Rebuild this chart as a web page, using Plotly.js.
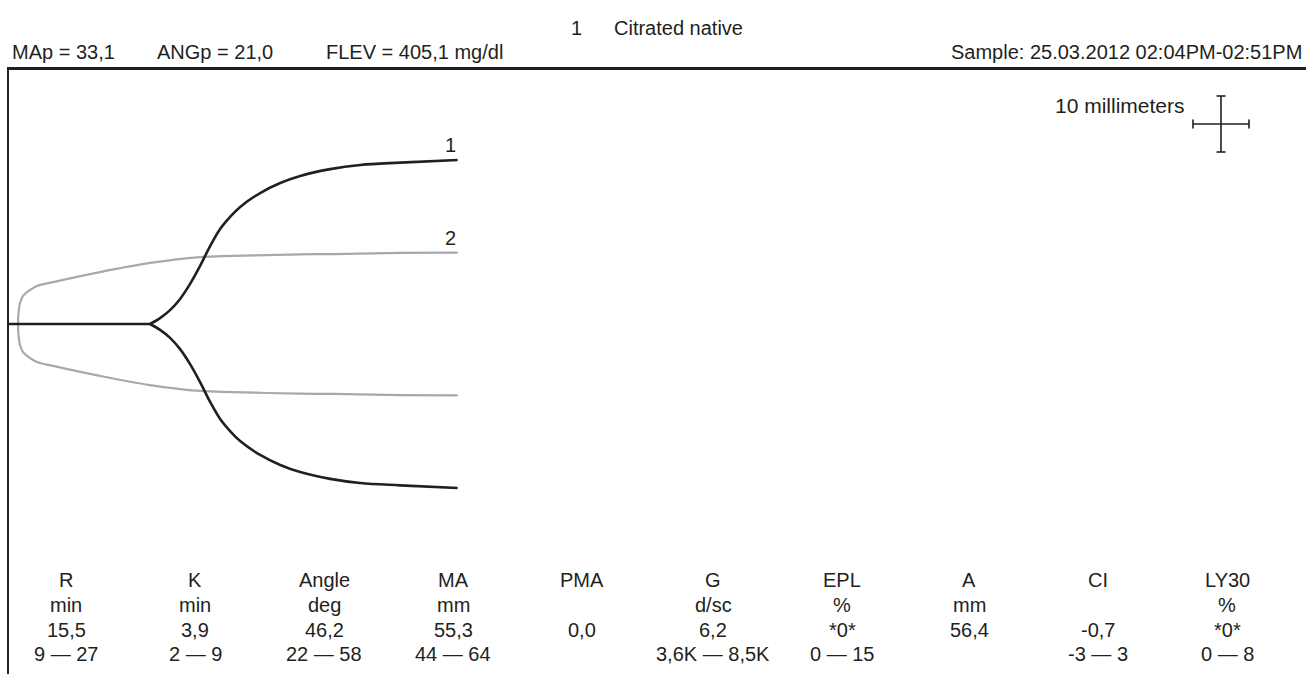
<!DOCTYPE html>
<html><head><meta charset="utf-8">
<script src="https://cdn.plot.ly/plotly-3.0.1.min.js"></script>
<style>html,body{margin:0;padding:0;background:#fff}#chart{width:1306px;height:674px}</style>
</head><body><div id="chart"></div>
<script>
// Curve 1 (black, citrated native): time (min) vs amplitude (mm)
const curve1Time = [0, 15.5, 16.6, 17.7, 18.8, 19.9, 21.0, 22.1, 23.2, 24.3, 25.4, 27.6, 29.8, 32.0, 35.3, 38.6, 43.0, 49.3];
const curve1Amp  = [0, 0, 2.0, 4.7, 8.5, 13.6, 19.7, 26.4, 32.2, 36.3, 39.7, 44.4, 47.8, 50.2, 52.5, 53.9, 54.7, 55.6];
// Curve 2 (gray)
const curve2Time = [1.0, 1.04, 1.21, 1.54, 1.98, 3.08, 4.84, 10.0, 15.5, 21.0, 24.6, 32.0, 35.6, 43.0, 49.3];
const curve2Amp  = [0, 3.4, 7.1, 9.5, 10.8, 12.9, 14.2, 17.6, 20.7, 22.7, 23.1, 23.6, 23.7, 24.1, 24.2];

// Parameter table
const paramNames  = ['R', 'K', 'Angle', 'MA', 'PMA', 'G', 'EPL', 'A', 'CI', 'LY30'];
const paramUnits  = ['min', 'min', 'deg', 'mm', '', 'd/sc', '%', 'mm', '', '%'];
const paramValues = ['15,5', '3,9', '46,2', '55,3', '0,0', '6,2', '*0*', '56,4', '-0,7', '*0*'];
const paramRanges = ['9 — 27', '2 — 9', '22 — 58', '44 — 64', '', '3,6K — 8,5K', '0 — 15', '', '-3 — 3', '0 — 8'];

// Header texts
const sampleNo = '1';
const sampleName = 'Citrated native';
const headerStats = ['MAp = 33,1', 'ANGp = 21,0', 'FLEV = 405,1 mg/dl'];
const sampleTime = 'Sample: 25.03.2012 02:04PM-02:51PM';
const scaleLabel = '10 millimeters';

const INK = '#231f20';
const GRAY = '#a7a9ac';
const FONT = 'Liberation Sans, Arial, Helvetica, sans-serif';
const FS = 20;

// layout geometry
const W = 1306, H = 674, ML = 9, MT = 70;
const PW = W - ML, PH = H - MT;
function px(x) { return (x - ML) / PW; }
function py(y) { return (H - y) / PH; }

const half = a => a / 2;
const neg = a => -a / 2;

// traces
const flat = {
  x: curve1Time.slice(0, 2), y: curve1Amp.slice(0, 2).map(half),
  mode: 'lines', line: {color: INK, width: 2.6}, hoverinfo: 'skip'
};
const c1up = {
  x: curve1Time.slice(1), y: curve1Amp.slice(1).map(half),
  mode: 'lines', line: {color: INK, width: 2.6, shape: 'spline', smoothing: 1}, hoverinfo: 'skip'
};
const c1lo = {
  x: curve1Time.slice(1), y: curve1Amp.slice(1).map(neg),
  mode: 'lines', line: {color: INK, width: 2.6, shape: 'spline', smoothing: 1}, hoverinfo: 'skip'
};
const g2x = curve2Time.slice().reverse().concat(curve2Time.slice(1));
const g2y = curve2Amp.slice().reverse().map(neg).concat(curve2Amp.slice(1).map(half));
const c2 = {
  x: g2x, y: g2y,
  mode: 'lines', line: {color: GRAY, width: 2.2, shape: 'spline', smoothing: 1}, hoverinfo: 'skip'
};

const annotations = [];
function txt(text, x, y, xanchor, size) {
  annotations.push({text: text, x: px(x), y: py(y), xref: 'paper', yref: 'paper',
    xanchor: xanchor || 'center', yanchor: 'middle', showarrow: false,
    font: {family: FONT, size: size || FS, color: INK}});
}
txt(sampleNo, 576, 28, 'center');
txt(sampleName, 612, 28, 'left');
txt(headerStats[0], 10, 52, 'left');
txt(headerStats[1], 155, 52, 'left');
txt(headerStats[2], 324, 52, 'left');
txt(sampleTime, 1304, 52, 'right');
txt(scaleLabel, 1187, 106, 'right', 21);

// curve labels at the end of each curve
const n1 = curve1Time.length - 1, n2 = curve2Time.length - 1;
annotations.push({text: '1', x: curve1Time[n1], y: half(curve1Amp[n1]), xref: 'x', yref: 'y',
  xanchor: 'right', yanchor: 'bottom', yshift: 2, showarrow: false, font: {family: FONT, size: FS, color: INK}});
annotations.push({text: '2', x: curve2Time[n2], y: half(curve2Amp[n2]), xref: 'x', yref: 'y',
  xanchor: 'right', yanchor: 'bottom', yshift: 2, showarrow: false, font: {family: FONT, size: FS, color: INK}});

// table
const colX = [66, 195, 324, 453, 582, 713, 842, 969, 1098, 1227];
const rowY = [580, 605, 630, 654];
paramNames.forEach((n, i) => {
  [n, paramUnits[i], paramValues[i], paramRanges[i]].forEach((t, r) => {
    if (t) txt(t, colX[i], rowY[r], 'center');
  });
});

// 10 mm scale cross
const shapes = [];
function seg(x0, y0, x1, y1) {
  shapes.push({type: 'line', xref: 'paper', yref: 'paper', x0: px(x0), y0: py(y0), x1: px(x1), y1: py(y1),
    line: {color: INK, width: 1.6}});
}
seg(1193, 124, 1249, 124);
seg(1193, 119.5, 1193, 128.5);
seg(1249, 119.5, 1249, 128.5);
seg(1221, 96, 1221, 152);
seg(1216.5, 96, 1225.5, 96);
seg(1216.5, 152, 1225.5, 152);

const layout = {
  width: W, height: H,
  margin: {l: ML, r: 0, t: MT, b: 0, pad: 0},
  paper_bgcolor: '#fff', plot_bgcolor: '#fff',
  showlegend: false,
  xaxis: {range: [0, 142.53], side: 'top', showline: true, linecolor: INK, linewidth: 2.6,
    showgrid: false, zeroline: false, showticklabels: false, ticks: '', fixedrange: true},
  yaxis: {range: [-59.32, 43.05], showline: true, linecolor: INK, linewidth: 2.5,
    showgrid: false, zeroline: false, showticklabels: false, ticks: '', fixedrange: true},
  annotations: annotations,
  shapes: shapes
};

Plotly.newPlot('chart', [c2, flat, c1up, c1lo], layout, {displayModeBar: false, staticPlot: true});
</script>
</body></html>
